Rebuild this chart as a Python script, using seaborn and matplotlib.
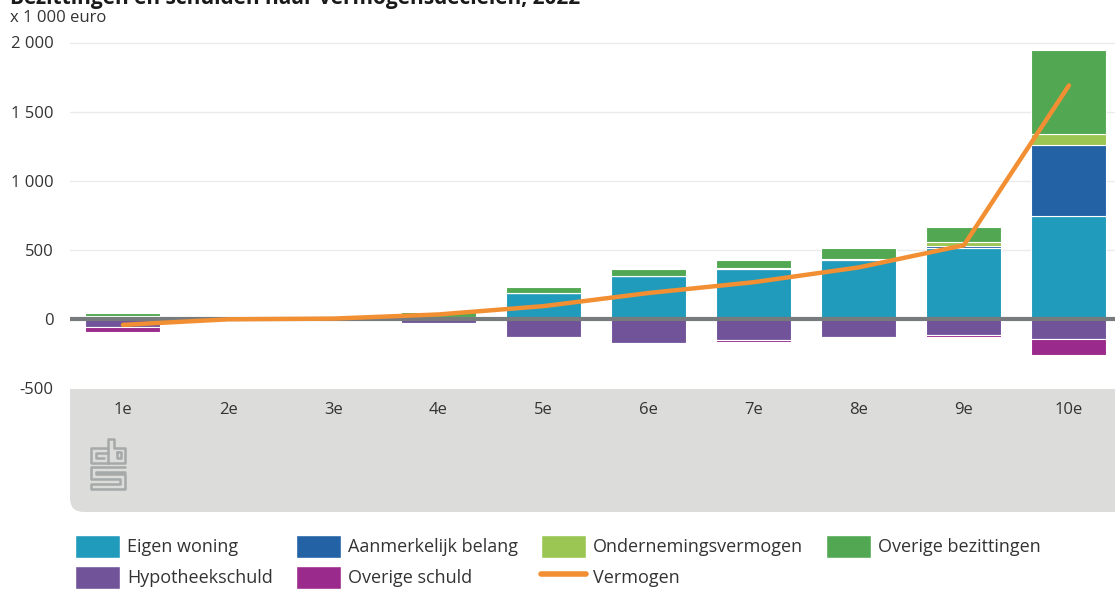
import numpy as np
import pandas as pd
import matplotlib
matplotlib.use("Agg")
import matplotlib.pyplot as plt
import seaborn as sns
from matplotlib.patches import Patch, FancyBboxPatch
from matplotlib.lines import Line2D
from matplotlib.transforms import IdentityTransform

# data (x 1 000 euro)
decielen = ['1e', '2e', '3e', '4e', '5e', '6e', '7e', '8e', '9e', '10e']
eigen_woning = [25, 0, 0, 20, 190, 315, 365, 425, 515, 745]
aanmerkelijk_belang = [0, 0, 0, 0, 0, 0, 0, 0, 15, 517]
ondernemingsvermogen = [0, 0, 0, 0, 0, 0, 5, 10, 25, 80]
overige_bezittingen = [20, 10, 15, 35, 45, 45, 60, 80, 115, 604]
hypotheekschuld = [-55, 0, 0, -25, -130, -170, -150, -130, -115, -145]
overige_schuld = [-35, -5, 0, 0, 0, 0, -12, 0, -15, -110]
vermogen = [-40, 0, 5, 35, 95, 190, 268, 375, 535, 1690]

yticks = [-500, 0, 500, 1000, 1500, 2000]
ytick_labels = ['-500', '0', '500', '1 000', '1 500', '2 000']

colors = {
    'Eigen woning': '#219bbb',
    'Aanmerkelijk belang': '#2262a5',
    'Ondernemingsvermogen': '#9bc653',
    'Overige bezittingen': '#52a852',
    'Hypotheekschuld': '#71539a',
    'Overige schuld': '#9a2a8b',
    'Vermogen': '#f28f33',
}

sns.set_style("white")
plt.rcParams['font.family'] = ['Open Sans', 'DejaVu Sans']

W, H = 1115, 592
fig = plt.figure(figsize=(W / 100, H / 100), dpi=100)

# axes placed in pixel terms of the reference
y_top = 2060
px_per_unit = 69.2 / 500
zero_px = 319.3
top_px = zero_px - y_top * px_per_unit
bot_px = 388.5
ax = fig.add_axes([70 / W, 1 - bot_px / H, (W - 70) / W, (bot_px - top_px) / H])

# stacked bars: positive layers
pos_layers = [
    ('Eigen woning', eigen_woning),
    ('Aanmerkelijk belang', aanmerkelijk_belang),
    ('Ondernemingsvermogen', ondernemingsvermogen),
    ('Overige bezittingen', overige_bezittingen),
]
neg_layers = [
    ('Hypotheekschuld', hypotheekschuld),
    ('Overige schuld', overige_schuld),
]

bottom = np.zeros(len(decielen))
for name, vals in pos_layers:
    vals = np.array(vals, dtype=float)
    sns.barplot(x=decielen, y=vals, bottom=bottom, color=colors[name], width=0.714,
                edgecolor='white', linewidth=0.8, saturation=1, errorbar=None, ax=ax)
    bottom = bottom + vals

bottom = np.zeros(len(decielen))
for name, vals in neg_layers:
    vals = np.array(vals, dtype=float)
    sns.barplot(x=decielen, y=vals, bottom=bottom, color=colors[name], width=0.714,
                edgecolor='white', linewidth=0.8, saturation=1, errorbar=None, ax=ax)
    bottom = bottom + vals

ax.axhline(0, color='#777b7e', lw=3.0, zorder=3)

sns.lineplot(x=decielen, y=vermogen, sort=False, color=colors['Vermogen'], lw=3.2,
             ax=ax, zorder=4, solid_capstyle='round')

ax.set_xlim(-0.504, 9.438)
ax.set_ylim(-500, y_top)
ax.set_yticks(yticks)
ax.set_yticklabels(ytick_labels)
ax.set_axisbelow(True)
ax.yaxis.grid(True, color='#ebebeb', lw=1)
ax.get_ygridlines()[0].set_visible(False)
for s in ax.spines.values():
    s.set_visible(False)
ax.tick_params(axis='both', length=0, labelsize=12, labelcolor='#333333')
ax.tick_params(axis='y', pad=12)
ax.tick_params(axis='x', pad=10)
ax.set_xlabel('')
ax.set_ylabel('')

# grey band under the plot with rounded bottom-left corner
band = FancyBboxPatch((70, H - 512), W, 300, boxstyle='round,pad=0,rounding_size=14',
                      transform=IdentityTransform(), facecolor='#dcdddb',
                      edgecolor='none', zorder=-1)
fig.add_artist(band)

# simple cbs logo
logo_col = '#a6a9a9'
logo_lines = [
    # c
    [(108, 448), (91, 448), (91, 463), (108, 463)],
    [(108, 453), (96, 453), (96, 458), (104, 458)],
    # b
    [(108, 463), (108, 439), (114, 439), (114, 448), (125, 448), (125, 463), (108, 463)],
    [(117, 452), (121, 452), (121, 458), (117, 458), (117, 452)],
    # s
    [(125, 467), (91, 467), (91, 479), (120, 479), (120, 484), (91, 484), (91, 489), (125, 489), (125, 474), (96, 474), (96, 472), (125, 472)],
]
for pts in logo_lines:
    xs = [p[0] for p in pts]
    ys = [H - p[1] for p in pts]
    fig.add_artist(Line2D(xs, ys, transform=IdentityTransform(), color=logo_col, lw=1.8))

# titles
fig.text(10 / W, 1 - 4 / H, 'Bezittingen en schulden naar vermogensdecielen, 2022',
         fontsize=15, fontweight='bold', color='#1a1a1a', va='baseline')
fig.text(10 / W, 1 - 18 / H, 'x 1 000 euro', fontsize=12, color='#333333', va='center')

# legend
handles = [
    Patch(facecolor=colors['Eigen woning'], label='Eigen woning'),
    Patch(facecolor=colors['Hypotheekschuld'], label='Hypotheekschuld'),
    Patch(facecolor=colors['Aanmerkelijk belang'], label='Aanmerkelijk belang'),
    Patch(facecolor=colors['Overige schuld'], label='Overige schuld'),
    Patch(facecolor=colors['Ondernemingsvermogen'], label='Ondernemingsvermogen'),
    Line2D([0], [0], color=colors['Vermogen'], lw=4, label='Vermogen'),
    Patch(facecolor=colors['Overige bezittingen'], label='Overige bezittingen'),
]
fig.legend(handles=handles, ncol=4, loc='upper left', bbox_to_anchor=(75 / W, 1 - 535 / H),
           frameon=False, fontsize=13, handlelength=2.5, handleheight=1.57,
           handletextpad=0.4, columnspacing=1.25, labelspacing=0.44,
           borderpad=0, borderaxespad=0, labelcolor='#333333')

fig.savefig('out.png', dpi=100)
